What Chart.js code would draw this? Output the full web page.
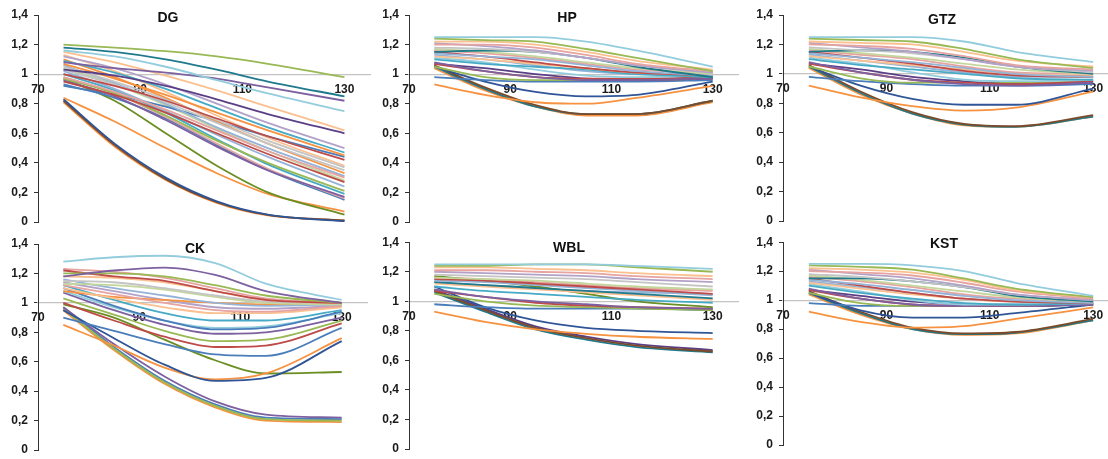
<!DOCTYPE html>
<html>
<head>
<meta charset="utf-8">
<script src="https://cdn.jsdelivr.net/npm/chart.js@4/dist/chart.umd.min.js"></script>
<style>
	body { margin: 0; background: #fff; width: 1108px; height: 459px; overflow: hidden; position: relative; }
	canvas { position: absolute; }
</style>
</head>
<body>
<script>
// x positions where every curve is sampled, and axis ticks
const xValues = [75, 85, 95, 105, 115, 130];
const xTicks = [70, 90, 110, 130];
const yTicks = [0, 0.2, 0.4, 0.6, 0.8, 1, 1.2, 1.4];

const dgSeries = [
	[1.20, 1.18, 1.155, 1.12, 1.07, 0.98],
	[1.18, 1.15, 1.10, 1.03, 0.95, 0.85],
	[1.16, 1.12, 1.05, 0.96, 0.87, 0.75],
	[1.08, 1.04, 1.01, 0.97, 0.91, 0.82],
	[1.15, 1.08, 0.99, 0.89, 0.78, 0.62],
	[1.03, 0.99, 0.92, 0.83, 0.73, 0.60],
	[1.12, 1.04, 0.93, 0.80, 0.67, 0.50],
	[1.09, 1.01, 0.90, 0.77, 0.64, 0.47],
	[1.07, 0.97, 0.86, 0.74, 0.62, 0.45],
	[1.00, 0.92, 0.82, 0.70, 0.58, 0.42],
	[1.05, 0.95, 0.83, 0.69, 0.55, 0.37],
	[1.03, 0.93, 0.81, 0.67, 0.53, 0.35],
	[1.10, 0.98, 0.84, 0.68, 0.53, 0.33],
	[0.98, 0.88, 0.76, 0.62, 0.48, 0.30],
	[0.95, 0.86, 0.74, 0.60, 0.46, 0.27],
	[1.02, 0.90, 0.75, 0.59, 0.44, 0.24],
	[0.97, 0.87, 0.72, 0.55, 0.40, 0.21],
	[1.00, 0.89, 0.74, 0.56, 0.39, 0.19],
	[0.96, 0.85, 0.69, 0.51, 0.35, 0.17],
	[0.98, 0.87, 0.71, 0.53, 0.36, 0.16],
	[0.93, 0.84, 0.70, 0.52, 0.35, 0.15],
	[1.06, 0.94, 0.80, 0.64, 0.50, 0.31],
	[0.92, 0.86, 0.78, 0.68, 0.58, 0.44],
	[1.04, 0.93, 0.79, 0.63, 0.48, 0.28],
	[1.13, 1.02, 0.88, 0.72, 0.57, 0.38],
	[0.97, 0.82, 0.60, 0.38, 0.20, 0.05],
	[0.84, 0.68, 0.50, 0.33, 0.19, 0.07],
	[0.83, 0.53, 0.30, 0.14, 0.05, 0.005],
	[0.82, 0.52, 0.29, 0.135, 0.048, 0.01],
	[0.81, 0.51, 0.285, 0.13, 0.045, 0.01],
];
const dgColors = ["G", "dA", "lA", "P", "lO", "dP", "lP", "A", "O", "R", "gray", "gray", "O", "lR", "R",
	"lB", "G", "A", "P", "lR", "B", "lB", "B", "lG", "lO", "dG", "O", "dB", "dR", "O"];

const hpSeries = [
	[1.25, 1.25, 1.25, 1.22, 1.16, 1.05],
	[1.24, 1.23, 1.22, 1.17, 1.11, 1.02],
	[1.22, 1.22, 1.20, 1.15, 1.09, 1.03],
	[1.20, 1.20, 1.18, 1.13, 1.07, 1.02],
	[1.21, 1.19, 1.16, 1.11, 1.06, 1.01],
	[1.18, 1.17, 1.15, 1.11, 1.06, 1.01],
	[1.15, 1.16, 1.15, 1.11, 1.05, 0.98],
	[1.17, 1.15, 1.12, 1.08, 1.04, 1.00],
	[1.14, 1.12, 1.10, 1.06, 1.02, 0.99],
	[1.15, 1.12, 1.08, 1.04, 1.01, 0.99],
	[1.12, 1.10, 1.07, 1.04, 1.01, 1.00],
	[1.10, 1.07, 1.05, 1.03, 1.00, 0.98],
	[1.11, 1.08, 1.03, 0.99, 0.98, 0.99],
	[1.13, 1.10, 1.06, 1.02, 1.00, 1.00],
	[1.16, 1.14, 1.11, 1.07, 1.03, 1.01],
	[1.08, 1.02, 0.98, 0.96, 0.96, 0.97],
	[1.07, 1.02, 0.98, 0.97, 0.97, 0.98],
	[1.07, 1.04, 1.00, 0.97, 0.96, 0.97],
	[1.05, 0.98, 0.96, 0.96, 0.96, 0.97],
	[0.98, 0.96, 0.95, 0.95, 0.95, 0.96],
	[1.05, 0.95, 0.88, 0.85, 0.86, 0.95],
	[0.93, 0.86, 0.81, 0.80, 0.84, 0.92],
	[1.06, 0.91, 0.79, 0.73, 0.73, 0.82],
	[1.05, 0.90, 0.78, 0.73, 0.73, 0.82],
	[1.04, 0.89, 0.78, 0.72, 0.72, 0.81],
];
const hpColors = ["lA", "G", "lO", "lR", "lP", "gray", "dA", "lG", "lB", "R", "lO", "A", "lA", "lB", "lR",
	"P", "R", "dP", "G", "B", "dB", "O", "dR", "dA", "O"];

const gtzSeries = [
	[1.25, 1.25, 1.25, 1.22, 1.15, 1.08],
	[1.24, 1.23, 1.22, 1.17, 1.10, 1.04],
	[1.22, 1.21, 1.20, 1.15, 1.09, 1.05],
	[1.20, 1.19, 1.17, 1.12, 1.06, 1.03],
	[1.21, 1.18, 1.15, 1.10, 1.05, 1.02],
	[1.18, 1.16, 1.14, 1.10, 1.05, 1.01],
	[1.15, 1.16, 1.15, 1.11, 1.05, 1.00],
	[1.17, 1.14, 1.11, 1.07, 1.03, 1.00],
	[1.14, 1.11, 1.08, 1.04, 1.00, 0.98],
	[1.15, 1.11, 1.07, 1.02, 0.99, 0.98],
	[1.12, 1.09, 1.06, 1.03, 1.00, 0.99],
	[1.10, 1.06, 1.03, 1.00, 0.97, 0.96],
	[1.11, 1.07, 1.01, 0.96, 0.95, 0.96],
	[1.13, 1.09, 1.05, 1.01, 0.98, 0.98],
	[1.16, 1.13, 1.10, 1.05, 1.01, 1.00],
	[1.08, 1.01, 0.96, 0.93, 0.92, 0.94],
	[1.07, 1.01, 0.96, 0.94, 0.93, 0.95],
	[1.07, 1.03, 0.98, 0.95, 0.93, 0.94],
	[1.05, 0.97, 0.94, 0.94, 0.94, 0.95],
	[0.98, 0.95, 0.93, 0.92, 0.92, 0.93],
	[1.05, 0.92, 0.83, 0.79, 0.79, 0.90],
	[0.92, 0.84, 0.78, 0.75, 0.77, 0.88],
	[1.06, 0.88, 0.74, 0.66, 0.645, 0.72],
	[1.05, 0.87, 0.73, 0.655, 0.64, 0.71],
	[1.04, 0.86, 0.73, 0.65, 0.64, 0.71],
];
const gtzColors = hpColors;

const ckSeries = [
	[1.28, 1.31, 1.32, 1.27, 1.13, 1.02],
	[1.18, 1.22, 1.24, 1.19, 1.08, 1.00],
	[1.20, 1.20, 1.18, 1.12, 1.05, 1.00],
	[1.22, 1.18, 1.15, 1.08, 1.02, 1.00],
	[1.23, 1.21, 1.17, 1.10, 1.03, 1.00],
	[1.18, 1.17, 1.14, 1.08, 1.02, 1.00],
	[1.15, 1.14, 1.10, 1.05, 1.01, 1.00],
	[1.13, 1.12, 1.09, 1.04, 1.00, 0.99],
	[1.16, 1.10, 1.05, 1.00, 0.98, 0.99],
	[1.12, 1.06, 1.00, 0.95, 0.94, 0.98],
	[1.10, 1.03, 0.97, 0.93, 0.93, 0.97],
	[1.08, 1.04, 1.02, 1.00, 0.99, 0.99],
	[1.14, 1.08, 1.02, 0.97, 0.96, 0.98],
	[1.12, 1.02, 0.93, 0.88, 0.88, 0.95],
	[1.10, 0.98, 0.88, 0.82, 0.83, 0.94],
	[1.08, 0.97, 0.88, 0.83, 0.84, 0.93],
	[1.07, 0.95, 0.85, 0.79, 0.80, 0.90],
	[1.03, 0.92, 0.81, 0.74, 0.75, 0.88],
	[1.00, 0.88, 0.77, 0.70, 0.71, 0.86],
	[0.90, 0.81, 0.72, 0.65, 0.64, 0.83],
	[0.95, 0.76, 0.58, 0.47, 0.49, 0.74],
	[0.85, 0.71, 0.56, 0.48, 0.52, 0.76],
	[0.99, 0.90, 0.75, 0.61, 0.52, 0.53],
	[0.97, 0.72, 0.50, 0.33, 0.24, 0.22],
	[0.96, 0.69, 0.46, 0.30, 0.21, 0.20],
	[0.97, 0.70, 0.47, 0.31, 0.22, 0.21],
	[0.95, 0.68, 0.45, 0.29, 0.20, 0.19],
];
const ckColors = ["lA", "P", "G", "R", "lR", "lO", "gray", "lG", "lB", "lR", "lO", "O", "lP", "A", "B",
	"lA", "P", "G", "R", "B", "dB", "O", "dG", "P", "G", "B", "O"];

const wblSeries = [
	[1.25, 1.25, 1.25, 1.25, 1.24, 1.22],
	[1.24, 1.24, 1.25, 1.25, 1.23, 1.20],
	[1.23, 1.23, 1.22, 1.21, 1.19, 1.17],
	[1.21, 1.21, 1.20, 1.19, 1.17, 1.15],
	[1.20, 1.19, 1.18, 1.17, 1.15, 1.13],
	[1.18, 1.17, 1.16, 1.15, 1.13, 1.10],
	[1.16, 1.15, 1.14, 1.12, 1.10, 1.08],
	[1.15, 1.14, 1.12, 1.10, 1.08, 1.05],
	[1.14, 1.13, 1.11, 1.09, 1.07, 1.04],
	[1.13, 1.11, 1.09, 1.07, 1.05, 1.02],
	[1.12, 1.10, 1.08, 1.06, 1.04, 1.01],
	[1.10, 1.07, 1.05, 1.03, 1.01, 0.99],
	[1.17, 1.14, 1.10, 1.05, 1.00, 0.96],
	[1.13, 1.11, 1.09, 1.07, 1.06, 1.05],
	[1.16, 1.15, 1.13, 1.11, 1.09, 1.07],
	[1.08, 1.03, 1.00, 0.98, 0.96, 0.95],
	[1.07, 1.03, 0.99, 0.97, 0.96, 0.95],
	[1.05, 1.00, 0.97, 0.96, 0.95, 0.94],
	[0.98, 0.96, 0.95, 0.95, 0.95, 0.94],
	[1.10, 0.96, 0.87, 0.82, 0.80, 0.785],
	[0.93, 0.86, 0.81, 0.78, 0.76, 0.745],
	[1.07, 0.94, 0.82, 0.75, 0.70, 0.66],
	[1.06, 0.93, 0.81, 0.74, 0.69, 0.655],
	[1.08, 0.95, 0.83, 0.76, 0.71, 0.67],
];
const wblColors = ["lA", "G", "lO", "lR", "lP", "gray", "lG", "R", "lB", "dA", "lO", "A", "dG", "lB", "lR",
	"P", "R", "G", "B", "dB", "O", "dR", "dA", "dP"];

const kstSeries = [
	[1.25, 1.25, 1.24, 1.20, 1.12, 1.03],
	[1.24, 1.23, 1.21, 1.15, 1.08, 1.02],
	[1.22, 1.21, 1.19, 1.14, 1.07, 1.02],
	[1.20, 1.19, 1.17, 1.12, 1.06, 1.01],
	[1.21, 1.18, 1.15, 1.10, 1.04, 1.00],
	[1.18, 1.16, 1.13, 1.09, 1.04, 1.00],
	[1.15, 1.15, 1.13, 1.09, 1.03, 0.99],
	[1.17, 1.14, 1.10, 1.06, 1.02, 0.99],
	[1.14, 1.11, 1.07, 1.03, 1.00, 0.98],
	[1.15, 1.10, 1.05, 1.01, 0.99, 0.98],
	[1.12, 1.08, 1.04, 1.01, 0.99, 0.99],
	[1.10, 1.05, 1.01, 0.98, 0.97, 0.98],
	[1.11, 1.06, 1.00, 0.97, 0.97, 0.98],
	[1.13, 1.09, 1.05, 1.01, 0.99, 0.99],
	[1.16, 1.13, 1.09, 1.04, 1.01, 1.00],
	[1.08, 1.01, 0.97, 0.96, 0.96, 0.97],
	[1.07, 1.01, 0.97, 0.96, 0.96, 0.98],
	[1.07, 1.03, 0.99, 0.97, 0.96, 0.97],
	[1.05, 0.98, 0.96, 0.96, 0.96, 0.97],
	[0.98, 0.96, 0.96, 0.96, 0.96, 0.97],
	[1.05, 0.93, 0.88, 0.88, 0.91, 0.97],
	[0.92, 0.85, 0.81, 0.82, 0.87, 0.95],
	[1.06, 0.92, 0.81, 0.77, 0.78, 0.87],
	[1.05, 0.91, 0.80, 0.765, 0.775, 0.86],
	[1.04, 0.90, 0.80, 0.76, 0.77, 0.86],
];
const kstColors = hpColors;

const palette = {
	B: "#4A7EBB", R: "#BE4B48", G: "#98B954", P: "#7D60A0", A: "#46AAC5", O: "#F69240",
	dB: "#2F5597", dR: "#7B4A2A", dG: "#6B8E23", dP: "#5B3F86", dA: "#1F7A8C",
	lB: "#95B3D7", lR: "#E6A3A0", lG: "#C3D69B", lP: "#B3A2C7", lA: "#93CDDD", lO: "#FAC090",
	gray: "#C4C4C4",
};

const tickFont = { family: "Liberation Sans, Arial, sans-serif", size: 12, weight: "bold" };

const panelTitle = {
	id: "panelTitle",
	afterDraw(chart, args, opts) {
		const { ctx, chartArea } = chart;
		ctx.save();
		ctx.font = "bold 14px 'Liberation Sans', Arial, sans-serif";
		ctx.fillStyle = "#111";
		ctx.textAlign = "center";
		ctx.textBaseline = "middle";
		ctx.fillText(opts.text, chartArea.left + opts.dx, opts.y);
		ctx.restore();
	},
};

// box = plot area [left, top, right, bottom] in page pixels; the canvas runs from
// (left, top) of its cell down to 16px under the plot (the layout keeps at least that)
const makePanel = (title, titleDx, titleY, series, colors, box, cellLeft, cellTop, cellWidth) => {
	const bottomPad = 16;
	const cellHeight = box[3] + bottomPad - cellTop;
	const canvas = document.createElement("canvas");
	canvas.width = cellWidth;
	canvas.height = cellHeight;
	canvas.style.left = cellLeft + "px";
	canvas.style.top = cellTop + "px";
	document.body.appendChild(canvas);

	const datasets = series.map((s, i) => ({
		data: xValues.map((x, j) => ({ x: x, y: s[j] })),
		borderColor: palette[colors[i]],
		borderWidth: 1.8,
		pointRadius: 0,
		fill: false,
		cubicInterpolationMode: "monotone",
	}));

	new Chart(canvas, {
		type: "line",
		data: { datasets: datasets },
		plugins: [panelTitle],
		options: {
			responsive: false,
			animation: false,
			events: [],
			layout: {
				padding: {
					left: 0,
					right: cellLeft + cellWidth - box[2],
					top: box[1] - cellTop,
					bottom: bottomPad,
				},
			},
			plugins: {
				legend: { display: false },
				tooltip: { enabled: false },
				panelTitle: { text: title, dx: titleDx, y: titleY },
			},
			scales: {
				x: {
					type: "linear",
					position: { y: 1 },
					min: 70,
					max: 135,
					z: 1,
					afterBuildTicks: s => { s.ticks = xTicks.map(v => ({ value: v })); },
					grid: { display: false, drawTicks: false },
					border: { display: true, color: "#c3c3c3", width: 1.2 },
					ticks: { font: tickFont, color: "#1a1a1a", padding: 8, maxRotation: 0 },
				},
				y: {
					min: 0,
					max: 1.4,
					afterFit: s => { s.width = box[0] - cellLeft; },
					afterBuildTicks: s => { s.ticks = yTicks.map(v => ({ value: v })); },
					grid: { drawOnChartArea: false, drawTicks: true, tickLength: 4, color: "#333" },
					border: { display: true, color: "#333", width: 1 },
					ticks: {
						font: tickFont,
						color: "#1a1a1a",
						padding: 6,
						callback: v => String(+v.toFixed(1)).replace(".", ","),
					},
				},
			},
		},
	});
};

makePanel("DG", 130, 18, dgSeries, dgColors, [38, 15, 370, 222], 0, 0, 372);
makePanel("HP", 158, 18, hpSeries, hpColors, [409, 15, 738, 222], 370, 0, 370);
makePanel("GTZ", 159, 20, gtzSeries, gtzColors, [783, 15, 1119, 221], 740, 0, 382);
makePanel("CK", 157, 20, ckSeries, ckColors, [38, 244, 367, 450], 0, 229, 370);
makePanel("WBL", 160, 19, wblSeries, wblColors, [409, 242, 738, 449], 370, 229, 370);
makePanel("KST", 161, 15, kstSeries, kstColors, [783, 239, 1119, 445], 740, 229, 382);
</script>
</body>
</html>
